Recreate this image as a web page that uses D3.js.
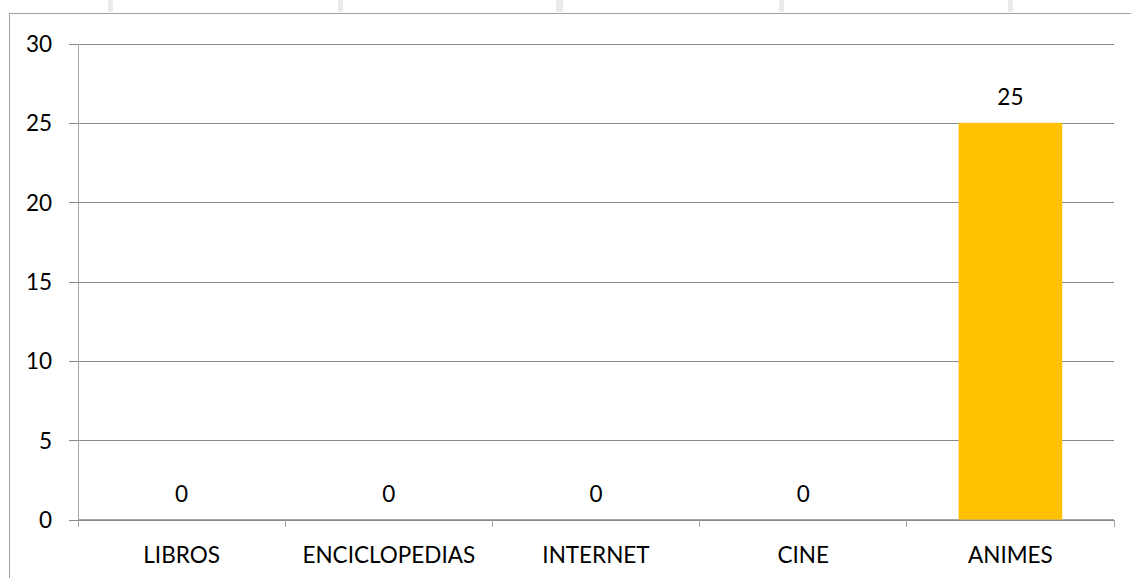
<!DOCTYPE html>
<html>
<head>
<meta charset="utf-8">
<script src="https://cdn.jsdelivr.net/npm/d3@7"></script>
<style>
  body { margin: 0; background: #fff; }
  svg text { font-family: Lato, "Open Sans", sans-serif; fill: #000; }
</style>
</head>
<body>
<svg id="chart"></svg>
<script>
// data
const categories = ["LIBROS", "ENCICLOPEDIAS", "INTERNET", "CINE", "ANIMES"];
const values = [0, 0, 0, 0, 25];
const yTicks = [0, 5, 10, 15, 20, 25, 30];

const W = 1131, H = 578;
const margin = {top: 43.5, right: 17, bottom: 58.5, left: 78};
const width = W - margin.left - margin.right;
const height = H - margin.top - margin.bottom;
const fontSize = 22.5;

const svg = d3.select("#chart").attr("width", W).attr("height", H);

// faint watermark bits at the top edge
svg.append("g").attr("fill", "#ebebed")
  .selectAll("rect")
  .data([[108, 5], [338, 5], [556, 7], [779, 5], [1008, 5]])
  .join("rect")
    .attr("x", d => d[0]).attr("y", 0)
    .attr("width", d => d[1]).attr("height", 12);

// outer chart border
svg.append("rect")
  .attr("x", 9.5).attr("y", 13.5)
  .attr("width", W + 10).attr("height", H + 10)
  .attr("fill", "none").attr("stroke", "#a0a0a0");

const chart = svg.append("g")
  .attr("transform", `translate(${margin.left},${margin.top})`);

const x = d3.scaleBand().domain(categories).range([0, width]).padding(0);
const y = d3.scaleLinear().domain([0, 30]).range([height, 0]);

// gridlines + y tick labels
const yAxis = d3.axisLeft(y).tickValues(yTicks).tickSize(-width - 9).tickPadding(17).tickFormat(d3.format("d"));
const yAxisG = chart.append("g")
  .attr("transform", "translate(-9,0)")
  .call(yAxis);
yAxisG.select(".domain").remove();
yAxisG.selectAll(".tick line").attr("stroke", "#888888").attr("shape-rendering", "crispEdges");
yAxisG.selectAll(".tick text").attr("font-size", fontSize).attr("dy", "0.35em").attr("x", -17);

// vertical axis line
chart.append("line")
  .attr("x1", 0).attr("x2", 0).attr("y1", 0).attr("y2", height + 7)
  .attr("stroke", "#a6a6a6").attr("shape-rendering", "crispEdges");

// x axis with ticks at band boundaries
chart.append("line")
  .attr("x1", 0).attr("x2", width).attr("y1", height).attr("y2", height)
  .attr("stroke", "#a6a6a6").attr("shape-rendering", "crispEdges");
chart.selectAll(".xtick")
  .data(d3.range(categories.length + 1))
  .join("line")
    .attr("class", "xtick")
    .attr("x1", i => i * x.step()).attr("x2", i => i * x.step())
    .attr("y1", height).attr("y2", height + 7)
    .attr("stroke", "#a6a6a6").attr("shape-rendering", "crispEdges");

chart.selectAll(".xlabel")
  .data(categories)
  .join("text")
    .attr("class", "xlabel")
    .attr("x", d => x(d) + x.bandwidth() / 2)
    .attr("y", height + 43)
    .attr("text-anchor", "middle")
    .attr("font-size", fontSize)
    .text(d => d);

// bars, half the band wide
const barW = x.bandwidth() * 0.5;
chart.selectAll(".bar")
  .data(values)
  .join("rect")
    .attr("class", "bar")
    .attr("x", (d, i) => x(categories[i]) + (x.bandwidth() - barW) / 2)
    .attr("y", d => y(d))
    .attr("width", barW)
    .attr("height", d => y(0) - y(d))
    .attr("fill", "#ffc000");

// value labels
chart.selectAll(".val")
  .data(values)
  .join("text")
    .attr("class", "val")
    .attr("x", (d, i) => x(categories[i]) + x.bandwidth() / 2)
    .attr("y", d => y(d) - 18)
    .attr("text-anchor", "middle")
    .attr("font-size", fontSize)
    .text(d => d);
</script>
</body>
</html>
